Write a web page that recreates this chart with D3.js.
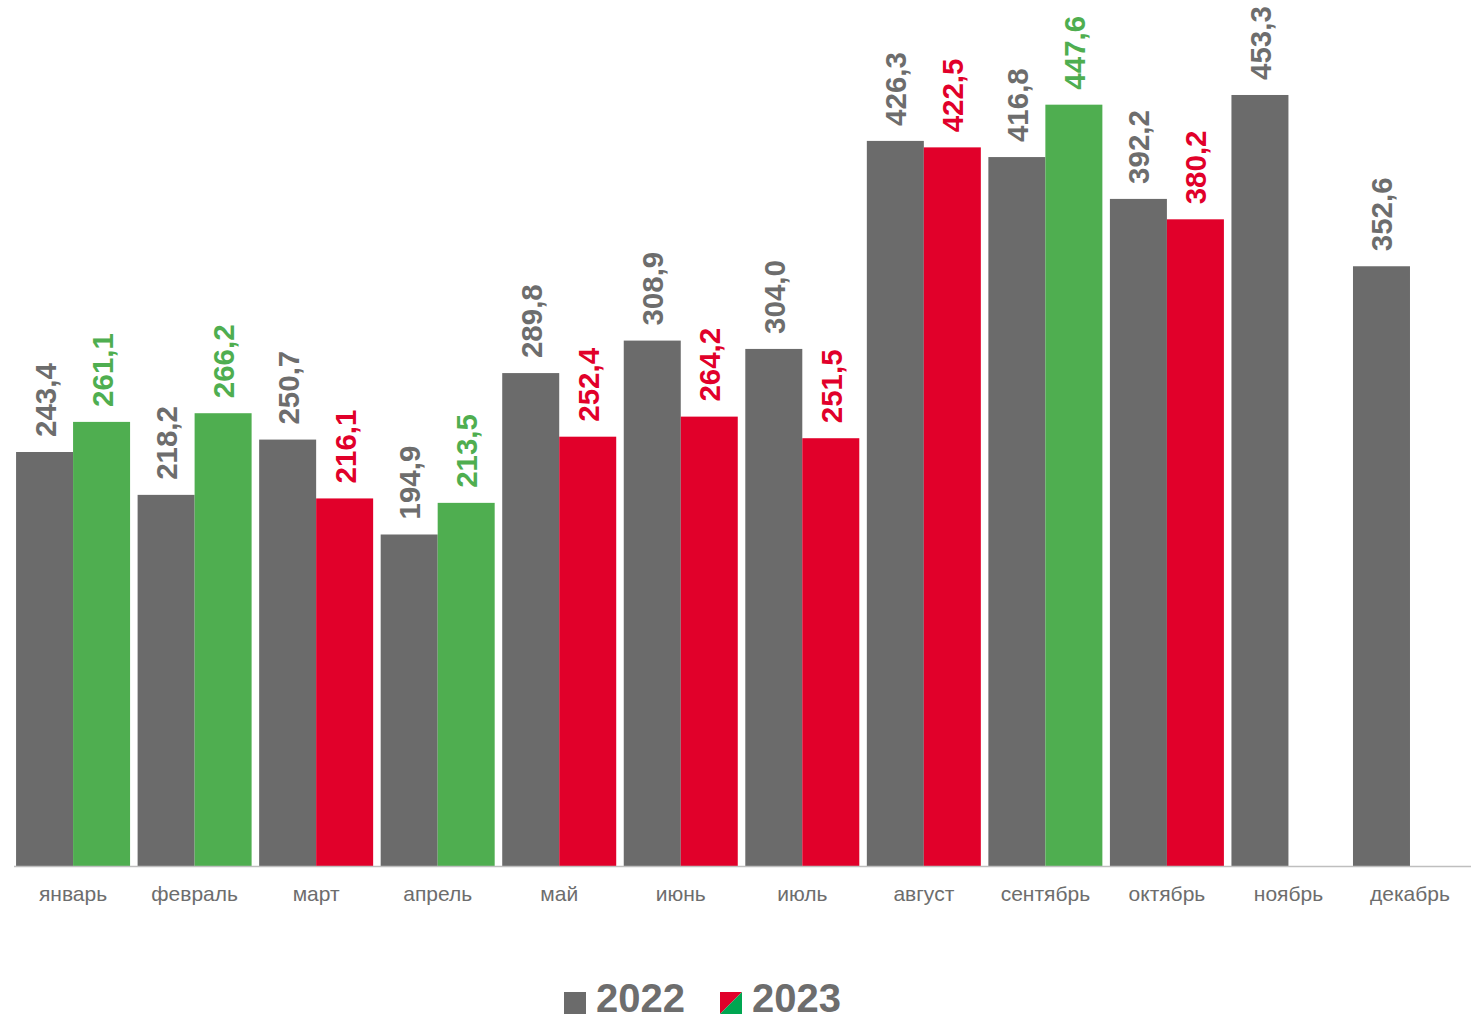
<!DOCTYPE html>
<html><head><meta charset="utf-8">
<script src="https://cdn.jsdelivr.net/npm/d3@7"></script>
<style>
html,body{margin:0;padding:0;background:#fff;}
svg{display:block;font-family:"Liberation Sans",Arial,sans-serif;}
</style></head>
<body>
<svg id="chart" width="1471" height="1021"></svg>
<script>
const months = ["январь","февраль","март","апрель","май","июнь","июль","август","сентябрь","октябрь","ноябрь","декабрь"];
const years = ["2022","2023"];
const values2022 = [243.4,218.2,250.7,194.9,289.8,308.9,304.0,426.3,416.8,392.2,453.3,352.6];
const values2023 = [261.1,266.2,216.1,213.5,252.4,264.2,251.5,422.5,447.6,380.2,null,null];

const GRAY = "#6b6b6b", GREEN = "#4fae50", RED = "#e1002a", LEG_GREEN = "#00a651", TXT = "#6d6d6d";

const svg = d3.select("#chart");
const baseY = 866;
const y = d3.scaleLinear().domain([0, 500]).range([baseY, baseY - 500 * 1.7009]);
const x0 = d3.scaleBand().domain(months).range([12.3, 1470.75]).paddingInner(0.062).paddingOuter(0.031);
const x1 = d3.scaleBand().domain(years).range([0, x0.bandwidth()]);

const fmt = v => d3.format(".1f")(v).replace(".", ",");

const data = [];
months.forEach((m, i) => {
  data.push({m, yr: "2022", v: values2022[i], color: GRAY});
  if (values2023[i] != null) {
    const c = values2023[i] >= values2022[i] ? GREEN : RED;
    data.push({m, yr: "2023", v: values2023[i], color: c});
  }
});

svg.append("g").selectAll("rect").data(data).join("rect")
  .attr("x", d => x0(d.m) + x1(d.yr))
  .attr("y", d => y(d.v))
  .attr("width", x1.bandwidth())
  .attr("height", d => y(0) - y(d.v))
  .attr("fill", d => d.color);

// axis line
svg.append("line").attr("x1", 14).attr("x2", 1471).attr("y1", baseY + 0.5).attr("y2", baseY + 0.5)
  .attr("stroke", "#bfbfbf").attr("stroke-width", 1.5);

// value labels
svg.append("g").selectAll("text").data(data).join("text")
  .attr("transform", d => `translate(${x0(d.m) + x1(d.yr) + x1.bandwidth() / 2 + 11},${y(d.v) - 15}) rotate(-90)`)
  .attr("text-anchor", "start")
  .attr("font-size", 29.5)
  .attr("font-weight", "bold")
  .attr("fill", d => d.yr === "2022" ? TXT : d.color)
  .text(d => fmt(d.v));

// month labels
svg.append("g").selectAll("text").data(months).join("text")
  .attr("x", d => x0(d) + x0.bandwidth() / 2)
  .attr("y", 901)
  .attr("text-anchor", "middle")
  .attr("font-size", 21)
  .attr("fill", TXT)
  .text(d => d);

// legend
const leg = svg.append("g");
leg.append("rect").attr("x", 564).attr("y", 992).attr("width", 22).attr("height", 22).attr("fill", GRAY);
leg.append("text").attr("x", 596).attr("y", 1012).attr("font-size", 40).attr("font-weight", "bold").attr("fill", TXT).text(years[0]);
leg.append("path").attr("d", "M720,992 H742 L720,1014 Z").attr("fill", RED);
leg.append("path").attr("d", "M742,992 V1014 H720 Z").attr("fill", LEG_GREEN);
leg.append("text").attr("x", 752).attr("y", 1012).attr("font-size", 40).attr("font-weight", "bold").attr("fill", TXT).text(years[1]);
</script>
</body></html>
